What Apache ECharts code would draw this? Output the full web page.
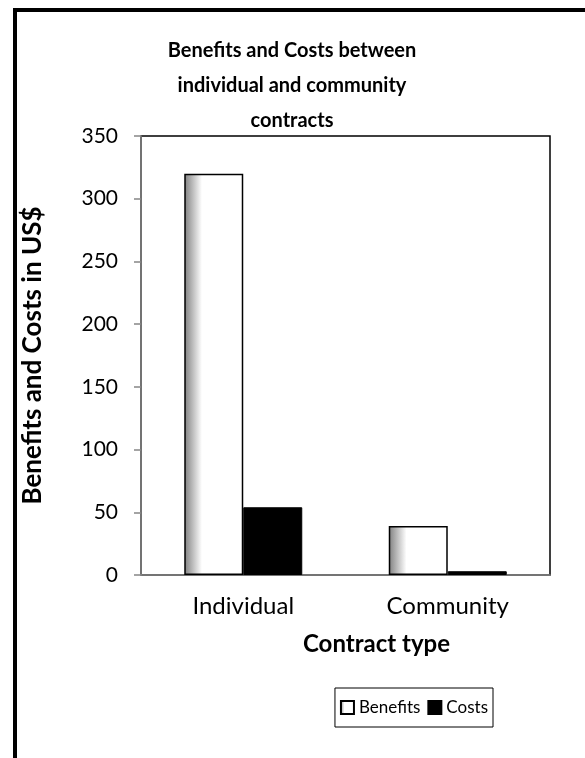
<!DOCTYPE html>
<html>
<head>
<meta charset="utf-8">
<script src="https://cdn.jsdelivr.net/npm/echarts@6/dist/echarts.min.js"></script>
<style>
  html, body { margin: 0; padding: 0; background: #fff; }
  #chart { width: 585px; height: 758px; }
</style>
</head>
<body>
<div id="chart"></div>
<script>
  // data
  var categories = ['Individual', 'Community'];
  var benefits = [320, 39];
  var costs = [54, 3];
  var yTicks = [0, 350, 50]; // min, max, interval

  var font = 'Lato';
  var chart = echarts.init(document.getElementById('chart'));

  // Excel-like gradient on the benefits bars
  var benefitFill = new echarts.graphic.LinearGradient(0, 0, 1, 0, [
    { offset: 0, color: '#7f7f7f' },
    { offset: 0.3, color: '#ffffff' },
    { offset: 1, color: '#ffffff' }
  ]);

  chart.setOption({
    backgroundColor: '#fff',
    title: {
      text: 'Benefits and Costs between\nindividual and community\ncontracts',
      left: 287,
      textAlign: 'center',
      top: 28,
      textStyle: { fontFamily: font, fontWeight: 'bold', fontSize: 20, lineHeight: 35, color: '#000' }
    },
    legend: {
      data: ['Benefits', 'Costs'],
      right: 92,
      top: 688,
      padding: [11, 5],
      borderColor: '#000',
      borderWidth: 1,
      itemWidth: 13,
      itemHeight: 13,
      itemGap: 7,
      icon: 'rect',
      textStyle: { fontFamily: font, fontSize: 17, color: '#000' }
    },
    grid: {
      left: 141, right: 35, top: 136, bottom: 183,
      show: true, borderColor: '#000', borderWidth: 1.5, backgroundColor: '#fff'
    },
    xAxis: {
      type: 'category',
      data: categories,
      name: 'Contract type',
      nameLocation: 'middle',
      nameGap: 57,
      nameTextStyle: { fontFamily: font, fontWeight: 'bold', fontSize: 24, color: '#000', padding: [0, 0, 0, 62] },
      axisLine: { lineStyle: { color: '#868686', width: 1.5 } },
      axisTick: { length: 6, lineStyle: { color: '#868686', width: 1.5 } },
      axisLabel: { fontFamily: font, fontSize: 24, color: '#000', margin: 19 }
    },
    yAxis: {
      type: 'value',
      min: yTicks[0],
      max: yTicks[1],
      interval: yTicks[2],
      name: 'Benefits and Costs in US$',
      nameLocation: 'middle',
      nameGap: 95,
      nameTextStyle: { fontFamily: font, fontWeight: 'bold', fontSize: 26, color: '#000' },
      axisLine: { show: true, lineStyle: { color: '#868686', width: 1.5 } },
      axisTick: { show: true, length: 7, lineStyle: { color: '#868686', width: 1.5 } },
      axisLabel: { fontFamily: font, fontSize: 21, color: '#000', margin: 23 },
      splitLine: { show: false }
    },
    series: [
      {
        name: 'Benefits',
        type: 'bar',
        data: benefits,
        barWidth: 59,
        barGap: '0%',
        itemStyle: { color: benefitFill, borderColor: '#000', borderWidth: 1.5 }
      },
      {
        name: 'Costs',
        type: 'bar',
        data: costs,
        barWidth: 59,
        itemStyle: { color: '#000', borderColor: '#000', borderWidth: 1 }
      }
    ],
    graphic: [
      {
        type: 'rect',
        shape: { x: 15, y: 10, width: 700, height: 900 },
        style: { fill: null, stroke: '#000', lineWidth: 4 },
        silent: true
      }
    ]
  });
</script>
</body>
</html>
